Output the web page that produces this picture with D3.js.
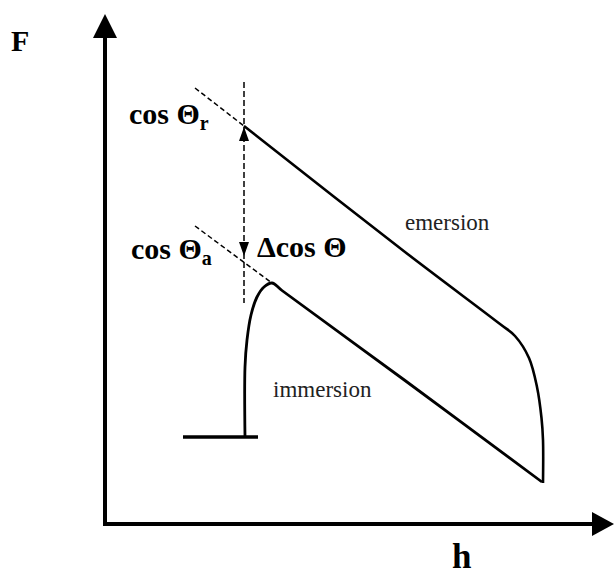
<!DOCTYPE html>
<html>
<head>
<meta charset="utf-8">
<script src="https://cdn.jsdelivr.net/npm/d3@7"></script>
<style>
  body { margin: 0; background: #fff; }
  text { font-family: "Liberation Serif", "Times New Roman", serif; }
</style>
</head>
<body>
<div id="chart"></div>
<script>
// basic settings for svg container
var svgWidth = 614;
var svgHeight = 575;

// ---- data (h, F) in arbitrary units ----
// emersion curve: dashed extrapolation + measured branch
var emersionDashH = [18, 27.8];
var emersionDashF = [87.2, 79.6];
var emersionH = [27.8, 60, 79, 82, 84.8, 86.4, 87.3, 87.6, 87.6];
var emersionF = [79.6, 54.4, 40, 37.6, 33.2, 27.4, 21.2, 16.8, 8.2];

// immersion curve: baseline, jump-in, then measured branch
var baseH = [15.6, 30.6];
var baseF = [17.4, 17.4];
var immersionH = [28, 28, 28.4, 29.2, 30.4, 31.8, 33.4, 35.4, 60, 87.4];
var immersionF = [17.4, 31.4, 36.8, 41.8, 45.4, 47.4, 48.2, 46.7, 28.7, 8.4];
var immersionDashH = [18, 33.4];
var immersionDashF = [59.6, 48.2];

// vertical dashed guide and the delta arrow
var guideH = 27.8;
var guideF = [88.4, 44.2];
var deltaF = [79.4, 53.6];

// axes extent (line end, arrow tip)
var axisHEnd = 97.6, axisHTip = 101.8;
var axisFEnd = 97.4, axisFTip = 102;

var zip = function(hs, fs) { return hs.map(function(h, i) { return [h, fs[i]]; }); };

var svg = d3.select("#chart").append("svg")
  .attr("width", svgWidth)
  .attr("height", svgHeight);

var x = d3.scaleLinear().domain([0, 100]).range([105, 605]);
var y = d3.scaleLinear().domain([0, 100]).range([524, 24]);

var line = d3.line().x(d => x(d[0])).y(d => y(d[1]));
var smooth = d3.line().x(d => x(d[0])).y(d => y(d[1])).curve(d3.curveCatmullRom.alpha(0.5));

/************************************************************************
 * AXES
 ***********************************************************************/
svg.append("line")
  .attr("x1", x(0)).attr("y1", y(-0.4))
  .attr("x2", x(0)).attr("y2", y(axisFEnd))
  .attr("stroke", "#000").attr("stroke-width", 4);

svg.append("line")
  .attr("x1", x(-0.4)).attr("y1", y(0))
  .attr("x2", x(axisHEnd)).attr("y2", y(0))
  .attr("stroke", "#000").attr("stroke-width", 4);

// arrow heads
svg.append("path")
  .attr("d", `M${x(0)},${y(axisFTip)} L${x(0) + 12},${y(axisFEnd) + 1} L${x(0) - 12},${y(axisFEnd) + 1}Z`)
  .attr("fill", "#000");
svg.append("path")
  .attr("d", `M${x(axisHTip)},${y(0)} L${x(axisHEnd) - 1},${y(0) - 12} L${x(axisHEnd) - 1},${y(0) + 12}Z`)
  .attr("fill", "#000");

svg.append("text")
  .attr("x", 11).attr("y", 51)
  .attr("font-size", 30).attr("font-weight", "bold")
  .text("F");

svg.append("text")
  .attr("x", 452).attr("y", 568)
  .attr("font-size", 35).attr("font-weight", "bold")
  .text("h");

/************************************************************************
 * CURVES
 ***********************************************************************/
// dashed extrapolations
svg.append("path")
  .attr("d", line(zip(emersionDashH, emersionDashF)))
  .attr("fill", "none").attr("stroke", "#000")
  .attr("stroke-width", 1.5).attr("stroke-dasharray", "5,3");

svg.append("path")
  .attr("d", line(zip(immersionDashH, immersionDashF)))
  .attr("fill", "none").attr("stroke", "#000")
  .attr("stroke-width", 1.5).attr("stroke-dasharray", "5,3");

svg.append("line")
  .attr("x1", x(guideH)).attr("y1", y(guideF[0]))
  .attr("x2", x(guideH)).attr("y2", y(guideF[1]))
  .attr("stroke", "#000").attr("stroke-width", 1.5)
  .attr("stroke-dasharray", "6,3");

// emersion
svg.append("path")
  .attr("d", smooth(zip(emersionH, emersionF)))
  .attr("fill", "none").attr("stroke", "#000")
  .attr("stroke-width", 2.6);

// immersion
svg.append("path")
  .attr("d", line(zip(baseH, baseF)))
  .attr("fill", "none").attr("stroke", "#000")
  .attr("stroke-width", 3.5);

svg.append("path")
  .attr("d", smooth(zip(immersionH, immersionF)))
  .attr("fill", "none").attr("stroke", "#000")
  .attr("stroke-width", 2.8);

// delta arrow heads
var gx = x(guideH);
svg.append("path")
  .attr("d", `M${gx},${y(deltaF[0])} L${gx + 5},${y(deltaF[0]) + 14} L${gx - 5},${y(deltaF[0]) + 14}Z`)
  .attr("fill", "#000");
svg.append("path")
  .attr("d", `M${gx},${y(deltaF[1])} L${gx + 5},${y(deltaF[1]) - 14} L${gx - 5},${y(deltaF[1]) - 14}Z`)
  .attr("fill", "#000");

/************************************************************************
 * LABELS
 ***********************************************************************/
var lab1 = svg.append("text")
  .attr("x", 129).attr("y", 124)
  .attr("font-size", 30).attr("font-weight", "bold");
lab1.append("tspan").text("cos \u0398");
lab1.append("tspan").attr("font-size", 20).attr("dy", 6).text("r");

var lab2 = svg.append("text")
  .attr("x", 131).attr("y", 259)
  .attr("font-size", 30).attr("font-weight", "bold");
lab2.append("tspan").text("cos \u0398");
lab2.append("tspan").attr("font-size", 20).attr("dy", 6).text("a");

svg.append("text")
  .attr("x", 257).attr("y", 257)
  .attr("font-size", 30).attr("font-weight", "bold")
  .text("\u0394cos \u0398");

svg.append("text")
  .attr("x", 405).attr("y", 230)
  .attr("font-size", 23).attr("fill", "#222")
  .text("emersion");

svg.append("text")
  .attr("x", 273).attr("y", 397)
  .attr("font-size", 23).attr("fill", "#222")
  .text("immersion");
</script>
</body>
</html>
